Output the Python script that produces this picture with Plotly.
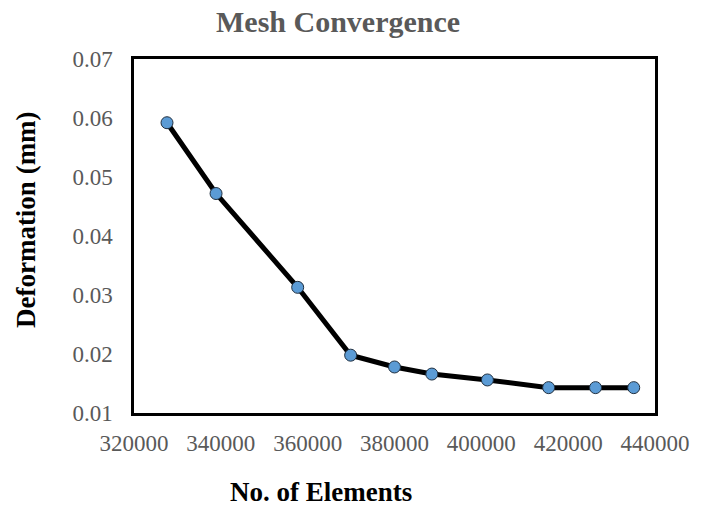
import plotly.graph_objects as go

# Mesh convergence study: element count vs. maximum deformation
elements = [327600, 338900, 357700, 369900, 380000, 388600, 401400, 415500, 426300, 435100]
deformation = [0.0592, 0.0472, 0.0313, 0.0198, 0.0178, 0.0166, 0.0156, 0.0143, 0.0143, 0.0143]

x_ticks = [320000, 340000, 360000, 380000, 400000, 420000, 440000]
y_ticks = [0.01, 0.02, 0.03, 0.04, 0.05, 0.06, 0.07]

SERIF = "Liberation Serif, Times New Roman, serif"

fig = go.Figure(
    go.Scatter(
        x=elements,
        y=deformation,
        mode="lines+markers",
        line=dict(color="black", width=5),
        marker=dict(size=12, color="#5B9BD5", line=dict(color="#1F2F40", width=1)),
        showlegend=False,
    )
)

W, H = 702, 506
L, R, T, B = 134, 37, 59, 93
pw, ph = W - L - R, H - T - B


def px(x):
    return (x - L) / pw


def py(y):
    return (H - B - y) / ph


axis_common = dict(
    showgrid=False,
    zeroline=False,
    showline=True,
    linecolor="black",
    linewidth=2.5,
    mirror=True,
    ticks="outside",
    tickcolor="rgba(0,0,0,0)",
    tickfont=dict(family=SERIF, size=23, color="#595959"),
)

fig.update_xaxes(
    range=[x_ticks[0], x_ticks[-1]],
    tickvals=x_ticks,
    ticktext=[str(v) for v in x_ticks],
    ticklen=8,
    **axis_common,
)
fig.update_yaxes(
    range=[y_ticks[0], y_ticks[-1]],
    tickvals=y_ticks,
    ticktext=[f"{v:.2f}" for v in y_ticks],
    ticklen=14,
    **axis_common,
)

fig.update_layout(
    width=W,
    height=H,
    margin=dict(l=L, r=R, t=T, b=B),
    paper_bgcolor="white",
    plot_bgcolor="white",
    annotations=[
        dict(text="<b>Mesh Convergence</b>", x=px(342), y=py(21), xref="paper", yref="paper",
             showarrow=False, xanchor="center", yanchor="middle",
             font=dict(family=SERIF, size=30, color="#595959")),
        dict(text="<b>No. of Elements</b>", x=px(325), y=py(492), xref="paper", yref="paper",
             showarrow=False, xanchor="center", yanchor="middle",
             font=dict(family=SERIF, size=27, color="black")),
        dict(text="<b>Deformation (mm)</b>", x=px(24), y=py(220), xref="paper", yref="paper",
             showarrow=False, xanchor="center", yanchor="middle", textangle=-90,
             font=dict(family=SERIF, size=27, color="black")),
    ],
)

fig.write_html("out.html")
